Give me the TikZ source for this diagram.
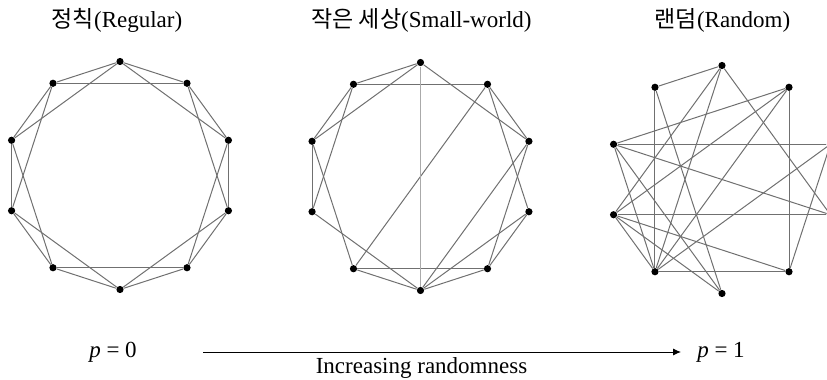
\documentclass[tikz,border=0pt]{standalone}
\usepackage{fontspec}
\setmainfont{Liberation Serif}
\newfontfamily\kofont{Noto Sans CJK KR}
\usetikzlibrary{arrows.meta, calc}
\definecolor{edgegray}{RGB}{112,112,112}
\definecolor{vline}{RGB}{170,170,170}
\tikzset{
  vert/.style  ={circle, fill=black, inner sep=0pt, minimum size=3.6pt},
  link/.style  ={draw=edgegray, line width=0.5pt},
  title/.style ={font=\fontsize{11.5}{13}\selectfont, inner sep=0pt},
  plabel/.style={font=\fontsize{11.5}{13}\selectfont, inner sep=0pt},
  arr/.style   ={-{Latex[length=4pt, width=3.6pt]}, line width=0.5pt, color=black},
}
\begin{document}
\begin{tikzpicture}[x=0.5pt, y=-0.5pt]
\useasboundingbox (0,0) rectangle (827,380);
\clip (0,0) rectangle (827,380);
% vertices of the three rings
\foreach \g/\cx/\cy in {r/120/175.5, s/420.5/176.5, n/722/179.5} {
  \foreach \i in {0,...,9} {
    \node[vert] (\g\i) at ($(\cx,\cy)+({36*\i-90}:114)$) {};
  }
}
% regular ring lattice
\foreach \i [evaluate=\i as \j using {int(mod(\i+1,10))},
             evaluate=\i as \k using {int(mod(\i+2,10))}] in {0,...,9} {
  \draw[link] (r\i) -- (r\j);
  \draw[link] (r\i) -- (r\k);
}
% small-world
\foreach \a/\b in {0/9, 0/8, 0/2, 1/9, 1/6, 1/2, 1/3, 2/5, 2/4, 3/4,
                   3/5, 4/5, 4/6, 5/6, 5/7, 6/8, 7/8, 7/9, 8/9} {
  \draw[link] (s\a) -- (s\b);
}
\draw[link, draw=vline, line width=0.8pt] (s0) -- (s5);
% random
\foreach \a/\b in {0/9, 0/7, 0/6, 0/3, 1/8, 1/7, 1/6, 1/4, 2/8, 2/6, 2/4,
                   3/8, 3/7, 4/6, 4/7, 5/9, 5/7, 5/8, 6/9, 6/8, 6/7} {
  \draw[link] (n\a) -- (n\b);
}
% titles
\node[title] (tReg)   at (117,20)   {{\kofont 정칙}(Regular)};
\node[title] (tSmall) at (421.5,20) {{\kofont 작은 세상}(Small-world)};
\node[title] (tRand)  at (722.5,20) {{\kofont 랜덤}(Random)};
% probability axis
\node[plabel] (p0) at (113,352) {\textit{p} = 0};
\node[plabel] (p1) at (721,352) {\textit{p} = 1};
\coordinate (aStart) at (203,352);
\coordinate (aEnd)   at (681,352);
\draw[arr] (aStart) -- (aEnd);
\node[plabel] (inc) at (421.5,368) {Increasing randomness};
\end{tikzpicture}
\end{document}
